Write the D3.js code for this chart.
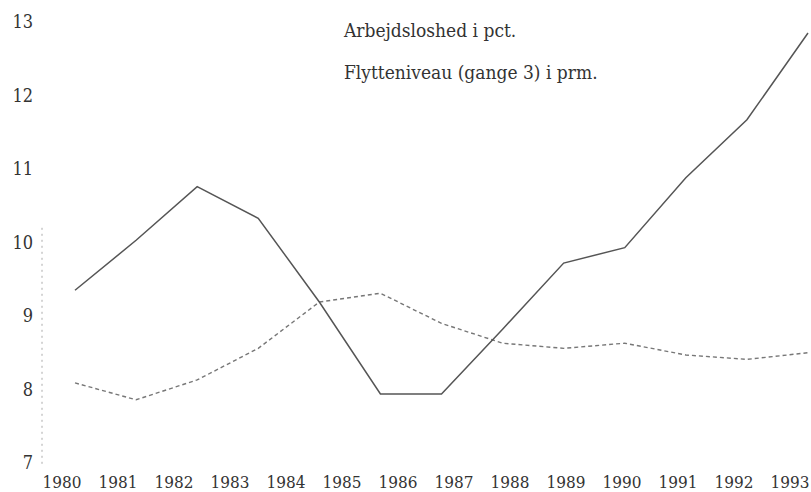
<!DOCTYPE html>
<html>
<head>
<meta charset="utf-8">
<script src="https://cdn.jsdelivr.net/npm/d3@7"></script>
<style>
  body { margin: 0; background: #fff; }
  svg { display: block; }
</style>
</head>
<body>
<div id="viz"></div>
<script>
// data
const years = [1980, 1981, 1982, 1983, 1984, 1985, 1986, 1987, 1988, 1989, 1990, 1991, 1992]
const unemployment = [9.35, 10.03, 10.76, 10.33, 9.19, 7.94, 7.94, 8.82, 9.72, 9.93, 10.88, 11.67, 12.85]
const moving = [8.09, 7.86, 8.13, 8.56, 9.19, 9.31, 8.90, 8.63, 8.56, 8.63, 8.47, 8.41, 8.50]
const yearLabels = ["1980", "1981", "1982", "1983", "1984", "1985", "1986", "1987", "1988", "1989", "1990", "1991", "1992", "1993"]
const yTicks = [7, 8, 9, 10, 11, 12, 13]
const legendLabels = ["Arbejdsloshed i pct.", "Flytteniveau (gange 3) i prm."]

const width = 811,
      height = 492
const serif = "DejaVu Serif Condensed, DejaVu Serif, serif"

const svg = d3.select("#viz").append("svg")
    .attr("width", width)
    .attr("height", height)

// scales
const x = d3.scaleLinear().domain([1980, 1992]).range([75, 808])
const xLabel = d3.scalePoint().domain(yearLabels).range([62, 790])
const y = d3.scaleLinear().domain([7, 13]).range([463, 22])

// y axis: dotted line, starts low
svg.append("line")
    .attr("x1", 42).attr("x2", 42)
    .attr("y1", y(10.2)).attr("y2", y(6.97))
    .attr("stroke", "#aaa")
    .attr("stroke-width", 1)
    .attr("stroke-dasharray", "2,4")

svg.selectAll(".ytick").data(yTicks)
  .enter().append("text")
    .attr("class", "ytick")
    .attr("x", 33)
    .attr("y", d => y(d))
    .attr("dy", "0.35em")
    .attr("text-anchor", "end")
    .attr("fill", "#333")
    .style("font-family", serif)
    .style("font-stretch", "condensed")
    .style("font-size", "18px")
    .text(d => d)

svg.selectAll(".xtick").data(yearLabels)
  .enter().append("text")
    .attr("class", "xtick")
    .attr("x", d => xLabel(d))
    .attr("y", 488)
    .attr("text-anchor", "middle")
    .attr("fill", "#333")
    .style("font-family", serif)
    .style("font-stretch", "condensed")
    .style("font-size", "17px")
    .text(d => d)

// lines
const line = d3.line()
    .x((d, i) => x(years[i]))
    .y(d => y(d))

svg.append("path")
    .datum(moving)
    .attr("d", line)
    .attr("fill", "none")
    .attr("stroke", "#777")
    .attr("stroke-width", 1.4)
    .attr("stroke-dasharray", "4,3")

svg.append("path")
    .datum(unemployment)
    .attr("d", line)
    .attr("fill", "none")
    .attr("stroke", "#555")
    .attr("stroke-width", 1.5)

// legend, text only
svg.selectAll(".legend").data(legendLabels)
  .enter().append("text")
    .attr("class", "legend")
    .attr("x", 344)
    .attr("y", (d, i) => 37 + i * 42)
    .attr("fill", "#333")
    .style("font-family", serif)
    .style("font-stretch", "condensed")
    .style("font-size", "19px")
    .text(d => d)
</script>
</body>
</html>
